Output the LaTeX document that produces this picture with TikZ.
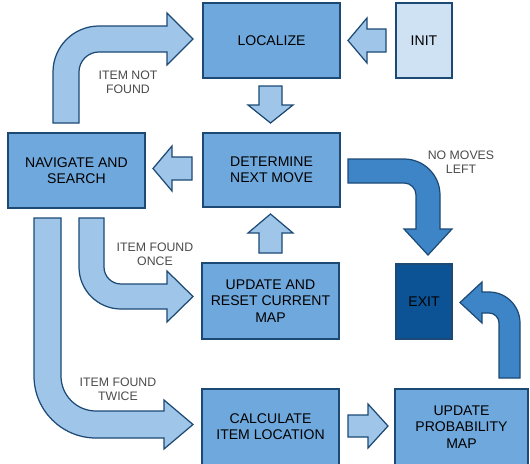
\documentclass[tikz,border=0pt]{standalone}
\usepackage{fontspec}
\setmainfont{Liberation Sans}
\definecolor{boxblue}{HTML}{6FA8DC}
\definecolor{initblue}{HTML}{CFE2F3}
\definecolor{exitblue}{HTML}{0B5394}
\definecolor{arrlight}{HTML}{9FC5E8}
\definecolor{arrdark}{HTML}{3D85C6}
\definecolor{edge}{HTML}{1C4A75}
\definecolor{lblgray}{HTML}{4A4A4A}
\begin{document}
\begin{tikzpicture}[x=0.02cm,y=0.02cm,
  box/.style={draw=edge,fill=boxblue,line width=0.7pt,align=center,inner sep=0pt,font=\fontsize{8}{9.2}\selectfont},
  lbl/.style={align=center,text=lblgray,font=\fontsize{7}{8}\selectfont},
  la/.style={draw=edge,fill=arrlight,line width=0.7pt},
  da/.style={draw=edge,fill=arrdark,line width=0.7pt}]
\useasboundingbox (0,0) rectangle (530,-463);
\node[box,minimum width=2.74cm,minimum height=1.5cm] (loc) at (271.5,-40.5) {LOCALIZE};
\node[box,fill=initblue,minimum width=1.12cm,minimum height=1.5cm] (init) at (424,-40.5) {INIT};
\node[box,minimum width=2.74cm,minimum height=1.48cm] (det) at (271.5,-170) {DETERMINE\\NEXT MOVE};
\node[box,minimum width=2.74cm,minimum height=1.5cm] (nav) at (76.5,-170.5) {NAVIGATE AND\\SEARCH};
\node[box,minimum width=2.74cm,minimum height=1.52cm] (upd) at (270.5,-301) {UPDATE AND\\RESET CURRENT\\MAP};
\node[box,fill=exitblue,minimum width=1.12cm,minimum height=1.5cm] (exit) at (424,-301.5) {EXIT};
\node[box,minimum width=2.74cm,minimum height=1.52cm] (calc) at (270.5,-427) {CALCULATE\\ITEM LOCATION};
\node[box,minimum width=2.66cm,minimum height=1.52cm] (prob) at (461.5,-427) {UPDATE\\PROBABILITY\\MAP};
% straight arrows
\draw[la] (386,-29) -- (367,-29) -- (367,-18) -- (348,-40.5) -- (367,-63) -- (367,-52) -- (386,-52) -- cycle;
\draw[la] (259,-86) -- (282,-86) -- (282,-105) -- (293,-105) -- (270.5,-123) -- (248,-105) -- (259,-105) -- cycle;
\draw[la] (192,-157) -- (172,-157) -- (172,-146) -- (153,-168.5) -- (172,-191) -- (172,-180) -- (192,-180) -- cycle;
\draw[la] (259,-253) -- (282,-253) -- (282,-233) -- (293,-233) -- (270.5,-214) -- (248,-233) -- (259,-233) -- cycle;
\draw[la] (348,-415) -- (368,-415) -- (368,-404) -- (388,-426) -- (368,-448) -- (368,-437) -- (348,-437) -- cycle;
% bent arrows
\draw[la] (53,-123) -- (53,-72) arc[start angle=180,end angle=90,radius=46] -- (167,-26) -- (167,-13)
  -- (193,-39) -- (167,-65) -- (167,-52) -- (99,-52) arc[start angle=90,end angle=180,radius=20] -- (79,-123) -- cycle;
\draw[da] (348,-159) -- (404,-159) arc[start angle=90,end angle=0,radius=36] -- (440,-229) -- (452,-229)
  -- (428,-255) -- (404,-229) -- (416,-229) -- (416,-195) arc[start angle=0,end angle=90,radius=12] -- (348,-183) -- cycle;
\draw[da] (520,-378) -- (520,-323) arc[start angle=0,end angle=90,radius=31] -- (482,-292) -- (482,-282)
  -- (460,-302.5) -- (482,-323) -- (482,-313) -- (489,-313) arc[start angle=90,end angle=0,radius=10] -- (499,-378) -- cycle;
\draw[la] (79,-218) -- (79,-267) arc[start angle=180,end angle=270,radius=42] -- (167,-309) -- (167,-322)
  -- (193,-296.5) -- (167,-271) -- (167,-284) -- (121,-284) arc[start angle=270,end angle=180,radius=17] -- (104,-218) -- cycle;
\draw[la] (34,-218) -- (34,-376) arc[start angle=180,end angle=270,radius=62] -- (164,-438) -- (164,-449)
  -- (193,-424.5) -- (164,-400) -- (164,-411) -- (96,-411) arc[start angle=270,end angle=180,radius=35] -- (61,-218) -- cycle;
\node[lbl] (nf) at (128,-82) {ITEM NOT\\FOUND};
\node[lbl] (nm) at (461,-162) {NO MOVES\\LEFT};
\node[lbl] (fo) at (155,-254) {ITEM FOUND\\ONCE};
\node[lbl] (ft) at (118,-389) {ITEM FOUND\\TWICE};
\end{tikzpicture}
\end{document}
